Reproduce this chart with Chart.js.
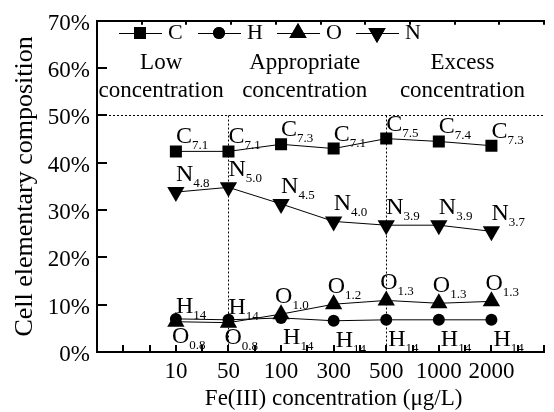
<!DOCTYPE html>
<html>
<head>
<meta charset="utf-8">
<script src="https://cdn.jsdelivr.net/npm/chart.js@4.4.0/dist/chart.umd.min.js"></script>
<style>
  html, body { margin: 0; padding: 0; background: #fff; }
  #wrap { width: 554px; height: 412px; }
</style>
</head>
<body>
<div id="wrap"><canvas id="chart"></canvas></div>
<script>
// Fe(III) concentrations (ug/L) on the x axis
const concentrations = ['10', '50', '100', '300', '500', '1000', '2000'];

// element share of the cell, %
const carbon   = [42.4, 42.4, 43.9, 43.0, 45.1, 44.5, 43.6];
const hydrogen = [7.0, 6.8, 7.2, 6.6, 6.8, 6.8, 6.8];
const oxygen   = [6.4, 6.2, 8.0, 10.1, 10.9, 10.3, 10.7];
const nitrogen = [33.8, 34.8, 31.3, 27.6, 26.8, 26.8, 25.5];

// subscripts written next to each point
const carbonSub   = ['7.1', '7.1', '7.3', '7.1', '7.5', '7.4', '7.3'];
const hydrogenSub = ['14', '14', '14', '14', '14', '14', '14'];
const oxygenSub   = ['0.8', '0.8', '1.0', '1.2', '1.3', '1.3', '1.3'];
const nitrogenSub = ['4.8', '5.0', '4.5', '4.0', '3.9', '3.9', '3.7'];

const regionNames = [['Low', 'concentration'], ['Appropriate', 'concentration'], ['Excess', 'concentration']];
const regionBounds = ['50', '500'];
const regionLevel = 50;

const SERIF = "'Liberation Serif', 'Times New Roman', serif";

// where the labels sit, above or below the marker
const hPlace = ['up', 'up', 'down', 'down', 'down', 'down', 'down'];
const oPlace = ['down', 'down', 'up', 'up', 'up', 'up', 'up'];

const toPts = arr => arr.map((v, i) => ({ x: i, y: v }));

function ds(label, data, style, radius, rotation) {
  return {
    label,
    data: toPts(data),
    borderColor: '#000',
    borderWidth: 1,
    backgroundColor: '#000',
    pointStyle: style,
    pointRadius: radius,
    pointRotation: rotation || 0,
    pointBackgroundColor: '#000',
    pointBorderColor: '#000',
    pointBorderWidth: 0,
    tension: 0
  };
}

// label offsets per placement
const offsets = {
  C: [0, -8], N: [0, -11],
  Hup: [0, -6], Hdown: [2, 26],
  Oup: [-6, -11], Odown: [-4, 21]
};

// dotted separators, region names, inward ticks, legend and point labels
const decorPlugin = {
  id: 'decor',
  beforeDatasetsDraw(chart) {
    const { ctx, chartArea, scales: { x, y } } = chart;
    ctx.save();
    ctx.strokeStyle = '#000';
    ctx.lineWidth = 1;
    ctx.setLineDash([2, 2]);
    const yl = Math.round(y.getPixelForValue(regionLevel)) + 0.5;
    ctx.beginPath();
    ctx.moveTo(chartArea.left, yl);
    ctx.lineTo(chartArea.right, yl);
    regionBounds.forEach(c => {
      const px = Math.round(x.getPixelForValue(concentrations.indexOf(c))) + 0.5;
      ctx.moveTo(px, yl);
      ctx.lineTo(px, y.getPixelForValue(0));
    });
    ctx.stroke();
    ctx.restore();
  },
  afterDraw(chart) {
    const { ctx, chartArea, scales: { x, y, xTop } } = chart;
    ctx.save();

    // inward ticks
    ctx.strokeStyle = '#000';
    ctx.lineWidth = 2;
    ctx.beginPath();
    y.ticks.forEach(t => {
      if (t.value === y.min) return;
      const py = Math.round(y.getPixelForValue(t.value));
      const len = t.value % 10 === 0 ? 10 : 5;
      ctx.moveTo(chartArea.left, py);
      ctx.lineTo(chartArea.left + len, py);
    });
    x.ticks.forEach(t => {
      if (t.value === x.min) return;
      const px = Math.round(x.getPixelForValue(t.value));
      ctx.moveTo(px, chartArea.bottom);
      ctx.lineTo(px, chartArea.bottom - 7);
    });
    xTop.ticks.forEach(t => {
      if (t.value === xTop.min) return;
      const px = Math.round(xTop.getPixelForValue(t.value));
      ctx.moveTo(px, chartArea.top);
      ctx.lineTo(px, chartArea.top + 4);
    });
    ctx.stroke();

    ctx.fillStyle = '#000';
    ctx.textBaseline = 'alphabetic';

    // x axis title centred on the data
    ctx.font = '23px ' + SERIF;
    ctx.textAlign = 'center';
    ctx.fillText('Fe(III) concentration (\u03bcg/L)', x.getPixelForValue(3), 405);

    // region names
    const centres = [-0.28, 2.45, 5.45];
    regionNames.forEach((lines, i) => {
      const cx = x.getPixelForValue(centres[i]);
      ctx.fillText(lines[0], cx, 69);
      ctx.fillText(lines[1], cx, 97);
    });

    // legend
    const sets = chart.data.datasets;
    sets.forEach((d, i) => {
      const x0 = 119 + i * 79;
      const ly = 33;
      ctx.lineWidth = 1;
      ctx.setLineDash([]);
      ctx.beginPath();
      ctx.moveTo(x0, ly + 0.5);
      ctx.lineTo(x0 + 43, ly + 0.5);
      ctx.stroke();
      Chart.helpers.drawPoint(ctx, {
        pointStyle: d.pointStyle, radius: d.pointRadius, rotation: d.pointRotation, borderWidth: 0
      }, x0 + 21, ly);
      ctx.fill();
      ctx.textAlign = 'left';
      ctx.font = '22px ' + SERIF;
      ctx.fillText(d.label, x0 + 49, 39);
    });

    // point labels with subscripts
    const subs = [carbonSub, hydrogenSub, oxygenSub, nitrogenSub];
    const places = [
      concentrations.map(() => 'C'),
      hPlace.map(p => 'H' + p),
      oPlace.map(p => 'O' + p),
      concentrations.map(() => 'N')
    ];
    sets.forEach((d, di) => {
      const meta = chart.getDatasetMeta(di);
      meta.data.forEach((pt, i) => {
        const [dx, dy] = offsets[places[di][i]];
        const lx = pt.x + dx, ly = pt.y + dy;
        ctx.textAlign = 'left';
        ctx.font = '24px ' + SERIF;
        ctx.fillText(d.label, lx, ly);
        const w = ctx.measureText(d.label).width;
        ctx.font = '13px ' + SERIF;
        ctx.fillText(subs[di][i], lx + w, ly + 6);
      });
    });
    ctx.restore();
  }
};

new Chart(document.getElementById('chart'), {
  type: 'line',
  data: {
    datasets: [
      ds('C', carbon, 'rect', 8.5),
      ds('H', hydrogen, 'circle', 6),
      ds('O', oxygen, 'triangle', 10),
      ds('N', nitrogen, 'triangle', 10, 180)
    ]
  },
  options: {
    responsive: true,
    maintainAspectRatio: false,
    animation: false,
    layout: { padding: { top: 12, right: 0, left: 0, bottom: 0 } },
    plugins: {
      legend: { display: false },
      tooltip: { enabled: false }
    },
    scales: {
      x: {
        type: 'linear',
        min: -1.5,
        max: 7,
        afterFit: s => { s.height = 60; },
        grid: { display: false, drawTicks: false },
        border: { display: true, color: '#000', width: 2 },
        ticks: {
          stepSize: 0.5,
          autoSkip: false,
          maxRotation: 0,
          padding: 6,
          color: '#000',
          font: { family: SERIF, size: 23 },
          callback: v => (Number.isInteger(v) && v >= 0 && v < concentrations.length) ? concentrations[v] : ''
        }
      },
      xTop: {
        type: 'linear',
        position: 'top',
        min: 0,
        max: 10,
        afterFit: s => { s.height = 0; },
        grid: { display: false, drawTicks: false },
        border: { display: true, color: '#000', width: 2 },
        ticks: { display: false, stepSize: 1 }
      },
      y: {
        min: 0,
        max: 70,
        afterFit: s => { s.width = 97; },
        grid: { display: false, drawTicks: false },
        border: { display: true, color: '#000', width: 2 },
        ticks: {
          stepSize: 5,
          padding: 7,
          labelOffset: 3,
          color: '#000',
          font: { family: SERIF, size: 23 },
          callback: v => (v % 10 === 0 ? v + '%' : '')
        },
        title: {
          display: true,
          text: 'Cell elementary composition',
          color: '#000',
          font: { family: SERIF, size: 26 },
          padding: { top: 10, bottom: 0 }
        }
      }
    }
  },
  plugins: [decorPlugin]
});
</script>
</body>
</html>
